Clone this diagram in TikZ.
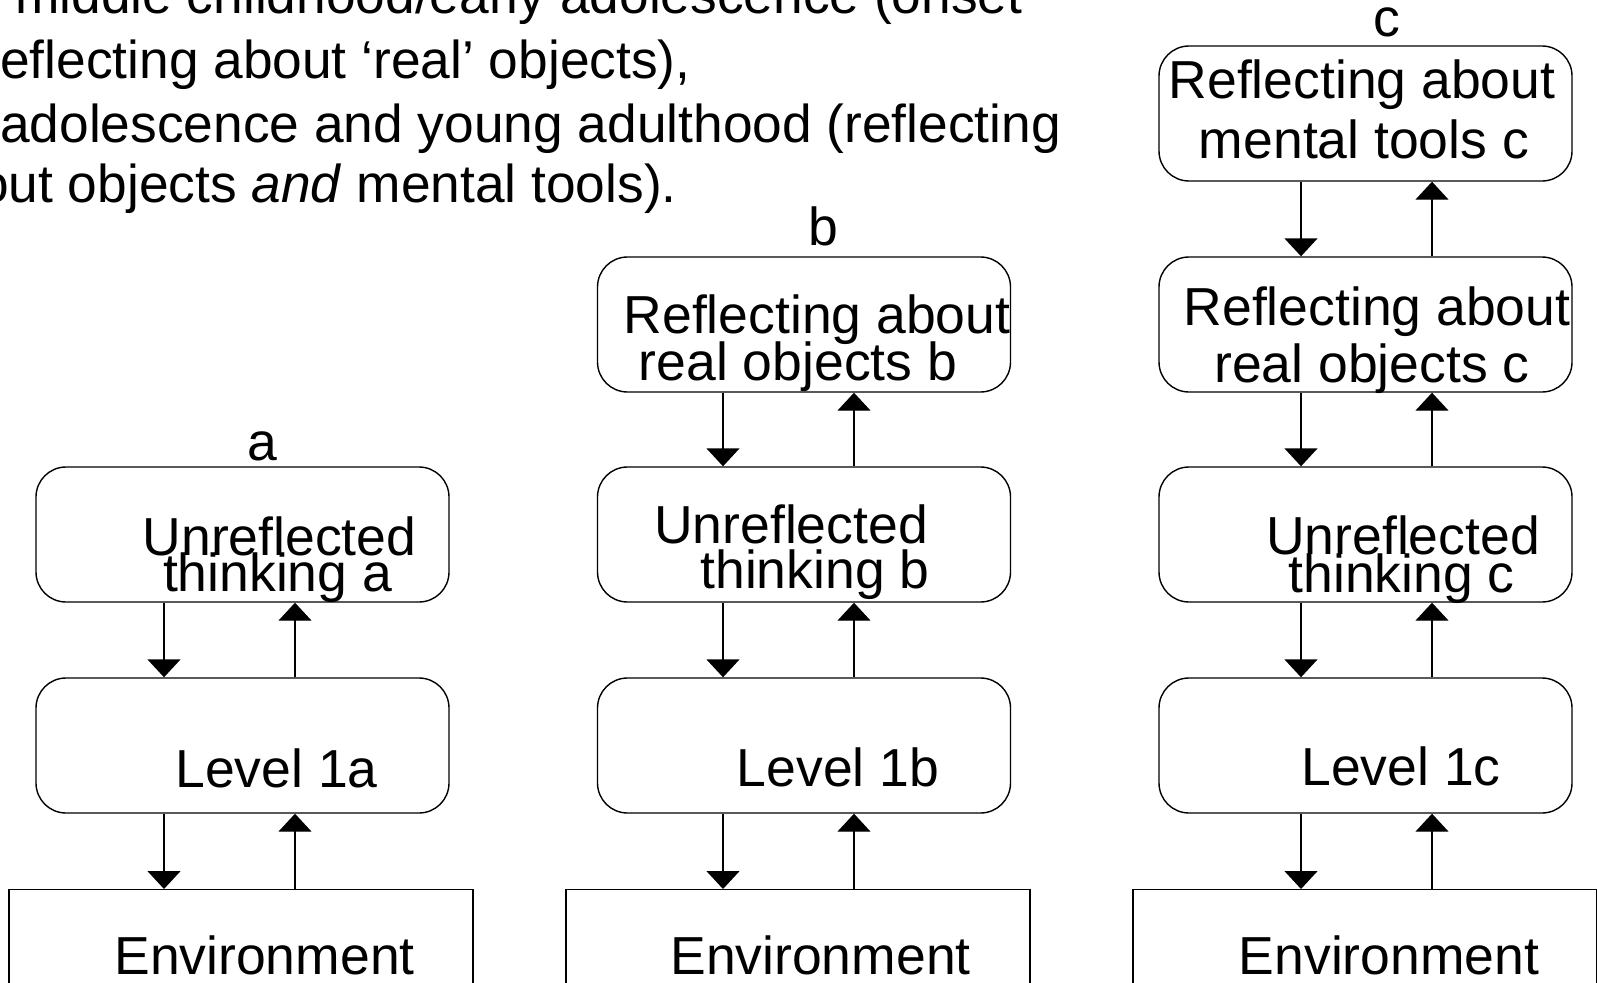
\documentclass[tikz,border=0pt]{standalone}
\usepackage{fontspec}
\setmainfont{Liberation Sans}
\usetikzlibrary{arrows.meta}
\begin{document}
\begin{tikzpicture}[x=1pt,y=-1pt,
  box/.style={draw, line width=1.4pt, rounded corners=30pt, minimum width=413pt, minimum height=135pt, inner sep=0pt},
  envbox/.style={draw, line width=1.4pt, minimum width=464pt, minimum height=200pt, inner sep=0pt, anchor=north},
  txt/.style={anchor=base, inner sep=0pt, font=\fontsize{53.5}{60}\selectfont},
  toptxt/.style={anchor=base west, inner sep=0pt, font=\fontsize{53.3}{60}\selectfont},
  arr/.style={line width=1.4pt, -{Triangle[width=33pt,length=18pt]}}]
\useasboundingbox (0,0) rectangle (1597,982);
\clip (0,0) rectangle (1597,982);

% top text
\node[toptxt] (t1) at (15,14) {middle childhood/early adolescence (onset};
\node[toptxt] (t2) at (-17.8,78) {reflecting about ‘real’ objects),};
\node[toptxt] (t3) at (0,142) {adolescence and young adulthood (reflecting};
\node[toptxt] (t4) at (-80.4,202) {about objects \textit{and} mental tools).};

% column a
\node[box] (aU) at (242.5,534.5) {};
\node[box] (aL) at (242.5,745.5) {};
\node[envbox] (aE) at (241,889) {};
\node[txt] (alab) at (262,460) {a};
\node[txt] (aU1) at (279.6,555) {Unreflected};
\node[txt] (aU2) at (277.6,591) {thinking a};
\node[txt] (aL1) at (276.5,787) {Level 1a};
\node[txt] (aE1) at (264.5,974) {Environment};
\coordinate (ad) at (164,0);
\coordinate (au) at (295,0);
\draw[arr] (aU.south -| ad) -- (aL.north -| ad);
\draw[arr] (aL.north -| au) -- (aU.south -| au);
\draw[arr] (aL.south -| ad) -- (aE.north -| ad);
\draw[arr] (aE.north -| au) -- (aL.south -| au);

% column b
\node[box] (bR) at (804,324.5) {};
\node[box] (bU) at (804,534.5) {};
\node[box] (bL) at (804,745.5) {};
\node[envbox] (bE) at (798,889) {};
\node[txt] (blab) at (823,245) {b};
\node[txt] (bR1) at (817,333) {Reflecting about};
\node[txt] (bR2) at (798,380) {real objects b};
\node[txt] (bU1) at (791,543) {Unreflected};
\node[txt] (bU2) at (815,588) {thinking b};
\node[txt] (bL1) at (838,786) {Level 1b};
\node[txt] (bE1) at (820.5,974) {Environment};
\coordinate (bd) at (723,0);
\coordinate (bu) at (854,0);
\draw[arr] (bR.south -| bd) -- (bU.north -| bd);
\draw[arr] (bU.north -| bu) -- (bR.south -| bu);
\draw[arr] (bU.south -| bd) -- (bL.north -| bd);
\draw[arr] (bL.north -| bu) -- (bU.south -| bu);
\draw[arr] (bL.south -| bd) -- (bE.north -| bd);
\draw[arr] (bE.north -| bu) -- (bL.south -| bu);

% column c
\node[box] (cM) at (1365.5,113.5) {};
\node[box] (cR) at (1365.5,324.5) {};
\node[box] (cU) at (1365.5,534.5) {};
\node[box] (cL) at (1365.5,745.5) {};
\node[envbox] (cE) at (1365,889) {};
\node[txt] (clab) at (1387,37) {c};
\node[txt] (cM1) at (1362,98) {Reflecting about};
\node[txt] (cM2) at (1364,158) {mental tools c};
\node[txt] (cR1) at (1377,325) {Reflecting about};
\node[txt] (cR2) at (1372,382) {real objects c};
\node[txt] (cU1) at (1403,554) {Unreflected};
\node[txt] (cU2) at (1401.5,592) {thinking c};
\node[txt] (cL1) at (1401,785) {Level 1c};
\node[txt] (cE1) at (1389,974) {Environment};
\coordinate (cd) at (1301,0);
\coordinate (cu) at (1432,0);
\draw[arr] (cM.south -| cd) -- (cR.north -| cd);
\draw[arr] (cR.north -| cu) -- (cM.south -| cu);
\draw[arr] (cR.south -| cd) -- (cU.north -| cd);
\draw[arr] (cU.north -| cu) -- (cR.south -| cu);
\draw[arr] (cU.south -| cd) -- (cL.north -| cd);
\draw[arr] (cL.north -| cu) -- (cU.south -| cu);
\draw[arr] (cL.south -| cd) -- (cE.north -| cd);
\draw[arr] (cE.north -| cu) -- (cL.south -| cu);
\end{tikzpicture}
\end{document}
